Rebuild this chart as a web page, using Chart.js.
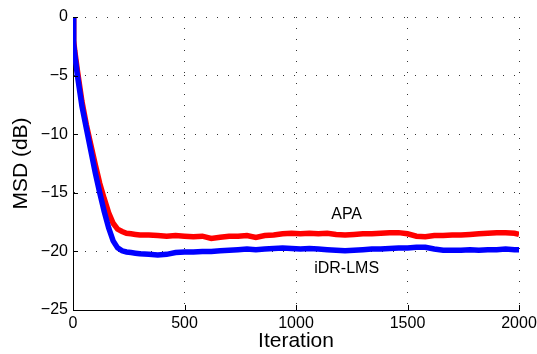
<!DOCTYPE html>
<html lang="en">
<head>
  <meta charset="UTF-8">
  <title>MSD vs Iteration</title>
  <script src="https://cdn.jsdelivr.net/npm/chart.js"></script>
  <style>
    body {
      margin: 0;
      background: #ffffff;
    }
    canvas {
      display: block;
    }
  </style>
</head>
<body>

  <canvas id="msdChart" width="537" height="354"></canvas>

  <script>
    // iteration index shared by both curves
    const iterations = [0, 3, 8, 20, 40, 60, 80, 100, 120, 140, 160, 180, 200, 220, 240, 260, 280, 300,
      340, 380, 420, 460, 500, 540, 580, 620, 660, 700, 740, 780, 820, 860, 900, 940, 980, 1020,
      1060, 1100, 1140, 1180, 1220, 1260, 1300, 1340, 1380, 1420, 1460, 1500, 1540, 1580, 1620,
      1660, 1700, 1740, 1780, 1820, 1860, 1900, 1940, 1980, 2000];

    const idrLms = [0, -2.3, -3.2, -5.0, -7.6, -9.5, -11.4, -13.3, -15.0, -16.6, -18.0, -19.1, -19.7,
      -19.95, -20.05, -20.1, -20.15, -20.2, -20.25, -20.3, -20.25, -20.1, -20.05, -20.05, -20.0,
      -20.0, -19.95, -19.9, -19.85, -19.8, -19.85, -19.8, -19.75, -19.7, -19.75, -19.8, -19.75,
      -19.8, -19.85, -19.9, -19.95, -19.9, -19.85, -19.8, -19.8, -19.75, -19.7, -19.7, -19.65,
      -19.65, -19.8, -19.9, -19.9, -19.9, -19.85, -19.9, -19.85, -19.85, -19.8, -19.85, -19.85];

    const apa = [0, -2.0, -2.9, -4.6, -7.2, -9.2, -10.9, -12.6, -14.2, -15.5, -16.7, -17.6, -18.1,
      -18.3, -18.45, -18.5, -18.55, -18.6, -18.6, -18.65, -18.7, -18.65, -18.7, -18.75, -18.7,
      -18.9, -18.8, -18.7, -18.7, -18.65, -18.8, -18.65, -18.6, -18.5, -18.45, -18.5, -18.45,
      -18.5, -18.45, -18.55, -18.6, -18.55, -18.5, -18.5, -18.45, -18.4, -18.4, -18.5, -18.7,
      -18.75, -18.65, -18.65, -18.6, -18.6, -18.55, -18.5, -18.45, -18.4, -18.4, -18.45, -18.55];

    const xTicks = [0, 500, 1000, 1500, 2000];
    const yTicks = [0, -5, -10, -15, -20, -25];

    // curve labels placed in data units
    const curveLabels = [
      { text: 'APA', x: 1227, y: -16.9 },
      { text: 'iDR-LMS', x: 1227, y: -21.5 }
    ];

    const FONT = '"Liberation Sans", Arial, sans-serif';

    function toPoints(ys) {
      return iterations.map((x, i) => ({ x: x, y: ys[i] }));
    }

    // MATLAB style inward tick marks + text labels
    const extras = {
      id: 'extras',
      afterDatasetsDraw(chart) {
        const ctx = chart.ctx;
        const xs = chart.scales.x;
        const ys = chart.scales.y;
        const area = chart.chartArea;
        ctx.save();
        ctx.strokeStyle = '#000';
        ctx.lineWidth = 1;
        ctx.beginPath();
        xTicks.forEach(v => {
          const px = Math.round(xs.getPixelForValue(v)) + 0.5;
          ctx.moveTo(px, area.bottom);
          ctx.lineTo(px, area.bottom - 5);
        });
        yTicks.forEach(v => {
          const py = Math.round(ys.getPixelForValue(v)) + 0.5;
          ctx.moveTo(area.left, py);
          ctx.lineTo(area.left + 5, py);
        });
        ctx.stroke();

        ctx.fillStyle = '#000';
        ctx.font = '16px ' + FONT;
        ctx.textAlign = 'center';
        ctx.textBaseline = 'middle';
        curveLabels.forEach(l => {
          ctx.fillText(l.text, xs.getPixelForValue(l.x), ys.getPixelForValue(l.y));
        });
        ctx.restore();
      }
    };

    const ctx = document.getElementById('msdChart').getContext('2d');

    new Chart(ctx, {
      type: 'line',
      data: {
        datasets: [{
          label: 'iDR-LMS',
          data: toPoints(idrLms),
          borderColor: '#0000ff',
          borderWidth: 5.5,
          pointRadius: 0,
          tension: 0
        }, {
          label: 'APA',
          data: toPoints(apa),
          borderColor: '#ff0000',
          borderWidth: 5.5,
          pointRadius: 0,
          tension: 0
        }]
      },
      options: {
        responsive: false,
        animation: false,
        layout: { padding: { top: 17, right: 18, left: 0, bottom: 0 } },
        plugins: {
          legend: { display: false },
          tooltip: { enabled: false }
        },
        scales: {
          x: {
            type: 'linear',
            min: 0,
            max: 2000,
            afterFit: s => {
              s.height = 44;
              s.paddingLeft = 0;
              s.paddingRight = 0;
            },
            afterBuildTicks: s => { s.ticks = xTicks.map(v => ({ value: v })); },
            ticks: {
              color: '#000',
              padding: 4,
              maxRotation: 0,
              font: { family: FONT, size: 16 },
              callback: v => String(v)
            },
            grid: {
              color: 'rgba(0,0,0,0.8)',
              drawTicks: false
            },
            // in v4 border.dash styles the grid lines, the axis line stays solid
            border: { display: true, color: '#000', width: 1, dash: [1, 10] },
            title: {
              display: true,
              text: 'Iteration',
              color: '#000',
              padding: { top: 0, bottom: 0 },
              font: { family: FONT, size: 21 }
            }
          },
          y: {
            min: -25,
            max: 0,
            afterFit: s => {
              s.width = 73;
              s.paddingTop = 0;
              s.paddingBottom = 0;
            },
            afterBuildTicks: s => { s.ticks = yTicks.map(v => ({ value: v })); },
            ticks: {
              color: '#000',
              padding: 5,
              font: { family: FONT, size: 16 },
              callback: v => v < 0 ? '\u2212' + Math.abs(v) : String(v)
            },
            grid: {
              color: 'rgba(0,0,0,0.8)',
              drawTicks: false
            },
            border: { display: true, color: '#000', width: 1, dash: [1, 10] },
            title: {
              display: true,
              text: 'MSD (dB)',
              color: '#000',
              padding: { top: 9, bottom: 0 },
              font: { family: FONT, size: 21 }
            }
          }
        }
      },
      plugins: [extras]
    });
  </script>

</body>
</html>
